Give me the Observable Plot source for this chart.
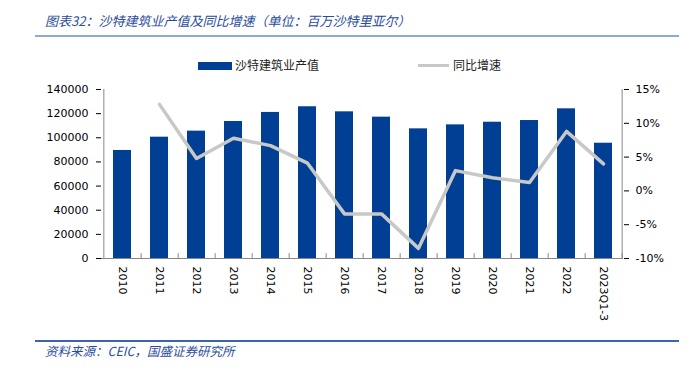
<!DOCTYPE html>
<html>
<head>
<meta charset="utf-8">
<script src="https://cdn.jsdelivr.net/npm/d3@7"></script>
<script src="https://cdn.jsdelivr.net/npm/@observablehq/plot@0.6"></script>
<style>
  html, body { margin: 0; padding: 0; background: #fff; }
  #wrap { position: relative; width: 696px; height: 381px; overflow: hidden; background: #fff; }
  #wrap svg { position: absolute; left: 0; top: 0; }
  .title { position: absolute; left: 45px; top: 14px; font: italic 13px/14px "Noto Sans CJK SC", sans-serif; color: #2a4d9c; white-space: nowrap; }
  .foot { position: absolute; left: 45px; top: 344px; font: italic 12.5px/14px "Noto Sans CJK SC", sans-serif; color: #2a4d9c; white-space: nowrap; }
  .hline { position: absolute; left: 35px; width: 644px; height: 2px; }
  .leg { position: absolute; top: 57px; font: 12px/16px "Noto Sans CJK SC", sans-serif; color: #222; white-space: nowrap; }
  .sw { position: absolute; }
</style>
</head>
<body>
<div id="wrap">
  <div class="title">图表32：沙特建筑业产值及同比增速（单位：百万沙特里亚尔）</div>
  <div class="hline" style="top:35px;background:#8fa9d6;"></div>
  <div class="sw" style="left:198px;top:62px;width:34px;height:8px;background:#003f94;"></div>
  <div class="leg" style="left:235px;">沙特建筑业产值</div>
  <div class="sw" style="left:418px;top:64px;width:31px;height:3px;background:#c8c8c8;"></div>
  <div class="leg" style="left:453px;">同比增速</div>
  <div class="hline" style="top:340px;background:#3b64ad;"></div>
  <div class="foot">资料来源：CEIC，国盛证券研究所</div>
</div>
<script>
const categories = ["2010","2011","2012","2013","2014","2015","2016","2017","2018","2019","2020","2021","2022","2023Q1-3"];
const outputValues = [89500, 100500, 105500, 113500, 121000, 125700, 121500, 117100, 107400, 110700, 112900, 114300, 124000, 95500];
const growthPct = [null, 12.8, 4.8, 7.8, 6.7, 4.1, -3.4, -3.4, -8.5, 3.0, 1.95, 1.25, 8.8, 4.0];
const leftTicks = [0, 20000, 40000, 60000, 80000, 100000, 120000, 140000];
const rightTicks = [-10, -5, 0, 5, 10, 15];

const barData = categories.map((c, i) => ({cat: c, value: outputValues[i]}));
const lineData = categories.map((c, i) => ({cat: c, g: growthPct[i]})).filter(d => d.g != null);

const W = 696, H = 381, mT = 89, mB = 123, mL = 101, mR = 73;
const halfBand = (W - mL - mR) / categories.length / 2;
const common = {
  width: W, height: H, marginTop: mT, marginBottom: mB, marginLeft: mL, marginRight: mR,
  style: {fontFamily: "DejaVu Sans, sans-serif", fontSize: "11px", color: "#000", background: "transparent", overflow: "visible"}
};
const xBand = {domain: categories, paddingInner: 0.52, paddingOuter: 0.26};

const bars = Plot.plot({
  ...common,
  x: {...xBand, label: null, tickSize: 0, tickRotate: 90, tickPadding: 8},
  y: {domain: [0, 140000], ticks: leftTicks, label: null, tickSize: 5, tickPadding: 8, tickFormat: d => String(d)},
  marks: [
    Plot.barY(barData, {x: "cat", y: "value", fill: "#003f94"}),
    Plot.ruleY([0], {stroke: "#888"}),
    Plot.ruleX([categories[0]], {y1: 0, y2: 140000, dx: -halfBand, stroke: "#888"}),
    Plot.ruleX(categories, {y1: 0, y2: 4000, dx: halfBand, stroke: "#888"})
  ]
});

const line = Plot.plot({
  ...common,
  x: {...xBand, axis: null},
  y: {domain: [-10, 15], ticks: rightTicks, axis: "right", label: null, tickSize: 5, tickPadding: 7, tickFormat: d => d + "%"},
  marks: [
    Plot.ruleX([categories[categories.length - 1]], {y1: -10, y2: 15, dx: halfBand, stroke: "#888"}),
    Plot.line(lineData, {x: "cat", y: "g", stroke: "#c8c8c8", strokeWidth: 3.5})
  ]
});

const wrap = document.getElementById("wrap");
wrap.appendChild(bars);
wrap.appendChild(line);
</script>
</body>
</html>
